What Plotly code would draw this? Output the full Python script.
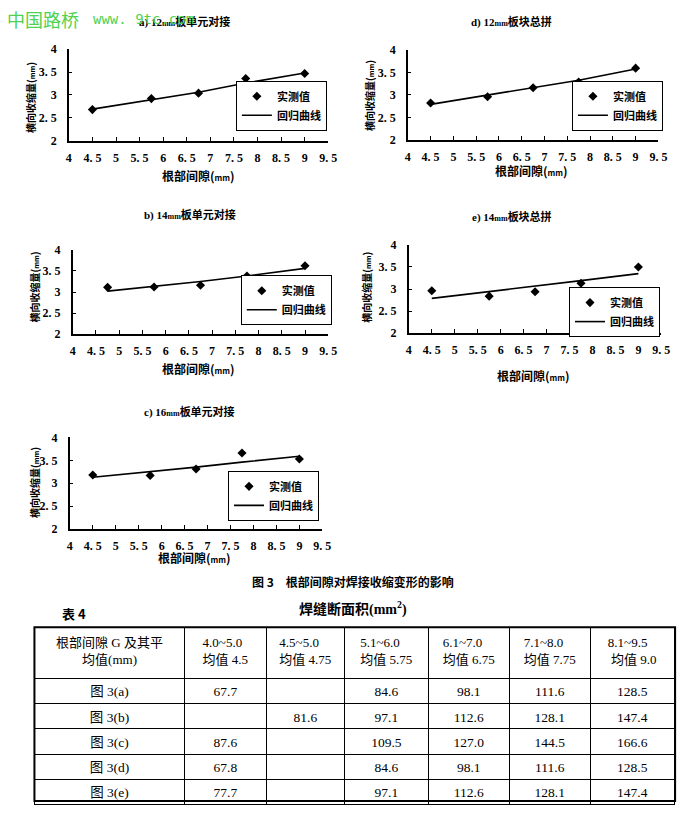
import plotly.graph_objects as go

W, H = 690, 813

# ---------------- data ----------------
gap_x = [4.5, 5.75, 6.75, 7.75, 9.0]
gap_x_b = [4.75, 5.75, 6.75, 7.75, 9.0]

meas_a = [2.68, 2.92, 3.04, 3.36, 3.47]
fit_a = [2.69, 2.90, 3.06, 3.26, 3.48]
meas_b = [3.11, 3.12, 3.16, 3.38, 3.62]
fit_b = [3.02, 3.13, 3.25, 3.38, 3.56]
meas_c = [3.18, 3.17, 3.31, 3.66, 3.53]
fit_c = [3.13, 3.25, 3.35, 3.46, 3.59]
meas_d = [2.82, 2.96, 3.16, 3.29, 3.60]
fit_d = [2.79, 3.00, 3.16, 3.33, 3.58]
meas_e = [2.96, 2.84, 2.94, 3.13, 3.50]
fit_e = [2.79, 2.94, 3.06, 3.19, 3.35]

titles = ["a) 12<span style='font-size:8px'>mm</span>板单元对接",
          "b) 14<span style='font-size:8px'>mm</span>板单元对接",
          "c) 16<span style='font-size:8px'>mm</span>板单元对接",
          "d) 12<span style='font-size:8px'>mm</span>板块总拼",
          "e) 14<span style='font-size:8px'>mm</span>板块总拼"]

x_ticks = [4, 4.5, 5, 5.5, 6, 6.5, 7, 7.5, 8, 8.5, 9, 9.5]
x_tick_text = ["4", "4. 5", "5", "5. 5", "6", "6. 5", "7", "7. 5", "8", "8. 5", "9", "9. 5"]
y_ticks = [2, 2.5, 3, 3.5, 4]
y_tick_text = ["2", "2. 5", "3", "3. 5", "4"]

NB = "\u00a0"
table_header = ["根部间隙 G 及其平<br>" + NB * 8 + "均值(mm)", "4.0~5.0<br>均值 4.5",
                "4.5~5.0<br>均值 4.75", "5.1~6.0<br>均值 5.75", "6.1~7.0<br>均值 6.75",
                "7.1~8.0<br>均值 7.75", "8.1~9.5<br>" + NB + "均值 9.0"]
row_labels = ["图 3(a)", "图 3(b)", "图 3(c)", "图 3(d)", "图 3(e)"]
col_45 = ["67.7", "", "87.6", "67.8", "77.7"]
col_475 = ["", "81.6", "", "", ""]
col_575 = ["84.6", "97.1", "109.5", "84.6", "97.1"]
col_675 = ["98.1", "112.6", "127.0", "98.1", "112.6"]
col_775 = ["111.6", "128.1", "144.5", "111.6", "128.1"]
col_90 = ["128.5", "147.4", "166.6", "128.5", "147.4"]

# ---------------- layout helpers ----------------
def fx(px):
    return px / W

def fy(py):
    return 1 - py / H

SERIF = "Liberation Serif, Noto Sans CJK SC"
CJK = "Noto Sans CJK SC"

# plot areas: (left, top, right, bottom) in pixels
areas = [
    (67, 43, 331, 136),    # a
    (71, 247, 331, 333),   # b
    (68, 438, 325, 531),   # c
    (412, 44, 667, 135),   # d
    (413, 242, 670, 332),  # e
]
legend_pos = [(237, 75), (242, 273), (229, 472), (579, 75), (576, 285)]
title_pos = [(185, 15), (190, 212), (190, 412), (518, 15), (518, 214)]
xtitle_pos = [(199, 171), (199, 368), (195, 560), (538, 166), (540, 375)]
ytitle_pos = [(28, 92), (32, 285), (32, 484), (373, 90), (370, 285)]

series = [
    (gap_x, meas_a, fit_a),
    (gap_x_b, meas_b, fit_b),
    (gap_x, meas_c, fit_c),
    (gap_x, meas_d, fit_d),
    (gap_x, meas_e, fit_e),
]

fig = go.Figure()
layout = dict(
    width=W, height=H, margin=dict(l=0, r=0, t=0, b=0),
    paper_bgcolor="white", plot_bgcolor="white",
    font=dict(family=SERIF, color="black", size=11),
)
annotations = []


def note(x, y, text, font, **kw):
    d = dict(x=fx(x), y=fy(y), xref="paper", yref="paper", showarrow=False,
             xanchor="center", yanchor="middle", text=text, font=font)
    d.update(kw)
    annotations.append(d)


for i, ((xs, ms, fs), area) in enumerate(zip(series, areas)):
    n = "" if i == 0 else str(i + 1)
    leg = "legend" if i == 0 else "legend" + str(i + 1)
    l, t, r, b = area
    fig.add_trace(go.Scatter(
        x=xs, y=ms, mode="markers", name="实测值",
        marker=dict(symbol="diamond", size=7, color="black"),
        xaxis="x" + n, yaxis="y" + n, legend=leg, showlegend=True))
    fig.add_trace(go.Scatter(
        x=xs, y=fs, mode="lines", name="回归曲线",
        line=dict(color="black", width=1.6),
        xaxis="x" + n, yaxis="y" + n, legend=leg, showlegend=True))
    layout["xaxis" + n] = dict(
        domain=[fx(l), fx(r)], range=[4, 9.5], anchor="y" + n,
        tickvals=x_ticks, ticktext=x_tick_text, ticks="inside", ticklen=4,
        tickwidth=1, tickcolor="black", showline=True, linecolor="black",
        linewidth=1.6, showgrid=False, zeroline=False, ticklabelstandoff=5,
        tickfont=dict(family=SERIF, size=12, weight=700))
    layout["yaxis" + n] = dict(
        domain=[fy(b), fy(t)], range=[2, 4], anchor="x" + n,
        tickvals=y_ticks, ticktext=y_tick_text, ticks="inside", ticklen=3,
        tickwidth=1, tickcolor="black", showline=True, linecolor="black",
        linewidth=1.6, showgrid=False, zeroline=False, ticklabelstandoff=8,
        tickfont=dict(family=SERIF, size=12, weight=700))
    lx, ly = legend_pos[i]
    layout[leg] = dict(
        x=fx(lx), y=fy(ly), xanchor="left", yanchor="top",
        bgcolor="white", bordercolor="black", borderwidth=1,
        font=dict(family=CJK, size=11, weight=700), itemwidth=30,
        tracegroupgap=0)
    tx, ty = title_pos[i]
    note(tx, ty, titles[i], dict(family=SERIF, size=11, weight=700))
    ax_, ay_ = xtitle_pos[i]
    note(ax_, ay_, "根部间隙(<span style='font-size:8px'>mm</span>)",
         dict(family=CJK, size=12, weight=700))
    yx, yy = ytitle_pos[i]
    note(yx, yy, "横向收缩量(<span style='font-size:7px'>mm</span>)",
         dict(family=CJK, size=10, weight=700), textangle=-90)

# figure caption and table titles
note(356, 585, "图 3　根部间隙对焊接收缩变形的影响", dict(family=CJK, size=12, weight=700))
note(72, 617, "表 4", dict(family=CJK, size=13, weight=700))
note(356, 612, "焊缝断面积(mm<sup>2</sup>)", dict(family=SERIF, size=14, weight=700))
# watermark
note(2, 12, "中国路桥", dict(family=CJK, size=18, color="#4fd24f"), xanchor="left")
note(90, 12, "www. 9tc.com", dict(family="DejaVu Sans Mono", size=14, color="#4fd24f"),
     xanchor="left")

layout["annotations"] = annotations

# table
fig.add_trace(go.Table(
    domain=dict(x=[fx(32), fx(684)], y=[0, fy(631)]),
    columnwidth=[153, 83, 80, 85, 83, 82, 86],
    header=dict(values=table_header, height=51, align="center",
                fill_color="white", line=dict(color="black", width=1),
                font=dict(family=SERIF, size=13, color="black")),
    cells=dict(values=[row_labels, col_45, col_475, col_575, col_675, col_775, col_90],
               height=25.3, align="center", fill_color="white",
               line=dict(color="black", width=1),
               font=dict(family=SERIF, size=13.5, color="black")),
))

layout["shapes"] = [dict(type="rect", xref="paper", yref="paper",
                         x0=fx(32), x1=fx(684), y0=fy(808), y1=fy(631),
                         line=dict(color="black", width=2))]

fig.update_layout(**layout)
fig.write_html("out.html", config={"displayModeBar": False},
               post_script="document.body.style.margin='0';document.body.style.overflow='hidden';")
